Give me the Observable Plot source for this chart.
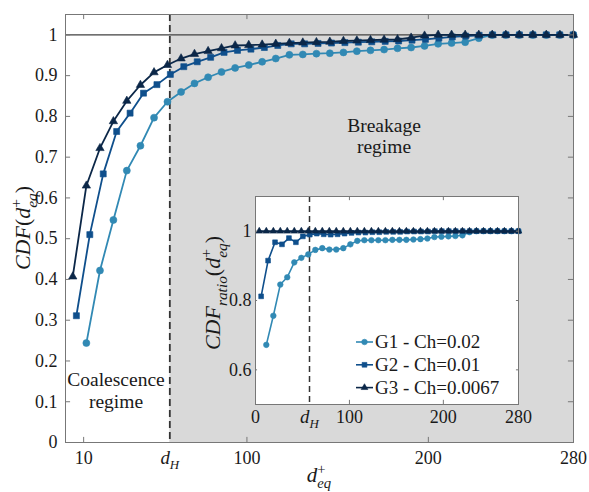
<!DOCTYPE html>
<html><head><meta charset="utf-8">
<script src="https://cdn.jsdelivr.net/npm/d3@7"></script>
<script src="https://cdn.jsdelivr.net/npm/@observablehq/plot@0.6"></script>
<style>
body{margin:0;background:#fff;}
#chart{position:relative;width:589px;height:492px;}
#inset{position:absolute;left:200px;top:190px;}
#chart svg, #chart svg text{font-family:'Liberation Serif',serif;}
</style></head><body><div id="chart"></div>
<script>
const FONT = "'Liberation Serif',serif";
const FS = 18;          // tick labels
const LABEL_FS = 22;    // axis titles
const NOTE_FS = 19.5;   // regime notes
const LEG_FS = 19;      // legend
const dH = 57.5;

// main CDF data
const xG3 = [4,11.5,19,26.4,33.8,41.3,48.8,56.2,63.7,71.1,78.6,86,93.5,101,108.4,115.9,123.4,130.8,138.3,145.7,153.2,160.6,168.1,175.6,183,190.5,197.9,205.4,212.8,220.3,227.8,235.2,242.7,250.1,257.6,265,272.5,280];
const yG3 = [0.407,0.630,0.722,0.788,0.838,0.877,0.908,0.926,0.942,0.953,0.960,0.967,0.974,0.975,0.976,0.978,0.980,0.981,0.982,0.983,0.985,0.986,0.987,0.988,0.989,0.993,0.998,1,1,1,1,1,1,1,1,1,1,1];
const xG2 = [6,13.4,20.8,28.2,35.6,43,50.4,57.8,65.2,72.6,80,87.4,94.8,102.2,109.6,117,124.4,131.8,139.2,146.6,154,161.4,168.8,176.2,183.6,191,198.4,205.8,213.2,220.6,228,235.4,242.8,250.2,257.6,265,272.4,279.8];
const yG2 = [0.311,0.510,0.659,0.763,0.808,0.857,0.878,0.903,0.922,0.934,0.945,0.957,0.962,0.965,0.969,0.974,0.978,0.978,0.979,0.980,0.981,0.982,0.983,0.984,0.985,0.987,0.989,0.992,0.995,0.997,0.999,1,1,1,1,1,1,1];
const xG1 = [11.5,19,26.4,33.8,41.3,48.8,56.2,63.7,71.1,78.6,86,93.5,101,108.4,115.9,123.4,130.8,138.3,145.7,153.2,160.6,168.1,175.6,183,190.5,197.9,205.4,212.8,220.3,227.8,235.2,242.7,250.1,257.6,265,272.5,280];
const yG1 = [0.244,0.422,0.546,0.667,0.728,0.797,0.836,0.860,0.881,0.896,0.909,0.919,0.926,0.934,0.942,0.951,0.952,0.954,0.955,0.957,0.960,0.962,0.964,0.967,0.969,0.973,0.978,0.980,0.982,0.992,1,1,1,1,1,1,1];

// inset CDF ratio data
const rG3 = [1,1,1,1,1,1,1,1,1,1,1,1,1,1,1,1,1,1,1,1,1,1,1,1,1,1,1,1,1,1,1,1,1,1,1,1,1,1];
const rG2 = [0.812,0.915,0.968,0.962,0.980,0.968,0.985,0.990,0.993,0.991,0.990,0.991,0.993,0.995,0.996,0.996,0.997,0.997,0.998,0.998,0.998,0.999,0.999,0.999,0.999,1,1,1,1,1,1,1,1,1,1,1,1,1];
const rG1 = [0.672,0.756,0.846,0.867,0.910,0.923,0.933,0.946,0.951,0.947,0.947,0.951,0.962,0.972,0.974,0.974,0.974,0.974,0.975,0.975,0.975,0.976,0.977,0.979,0.983,0.984,0.985,0.986,0.988,0.997,1,1,1,1,1,1,1];

const seriesNames = ["G1 - Ch=0.02", "G2 - Ch=0.01", "G3 - Ch=0.0067"];
const seriesColors = ["#3189b4", "#0f4f8c", "#0b2748"];
const seriesSymbols = ["circle", "square", "triangle"];

const xTicks = [10, dH, 100, 200, 280];
const yTicks = [0, 0.1, 0.2, 0.3, 0.4, 0.5, 0.6, 0.7, 0.8, 0.9, 1];
const yTickLabels = ["0","0.1","0.2","0.3","0.4","0.5","0.6","0.7","0.8","0.9","1"];
const insetXTicks = [0, dH, 100, 200, 280];
const insetYTicks = [0.6, 0.8, 1];
const insetYTickLabels = ["0.6", "0.8", "1"];

const xDomain = [0, 280], yDomain = [0, 1.05];
const ixDomain = [0, 280], iyDomain = [0.5, 1.1];

const mainSeries = [[xG1, yG1], [xG2, yG2], [xG3, yG3]].map(([xs, ys], i) =>
  xs.map((x, j) => ({x, y: ys[j], s: i})));
const insetSeries = [[xG1, rG1], [xG2, rG2], [xG3, rG3]].map(([xs, ys], i) =>
  xs.map((x, j) => ({x, y: ys[j], s: i})));

const symR = {circle: 3.5, square: 3.4, triangle: 3.1};
const symRi = {circle: 2.8, square: 2.7, triangle: 2.5};

function seriesMarks(series, rs, sw) {
  const m = [];
  series.forEach((d, i) => {
    m.push(Plot.line(d, {x: "x", y: "y", stroke: seriesColors[i], strokeWidth: sw}));
    m.push(Plot.dot(d, {x: "x", y: "y", symbol: seriesSymbols[i], r: rs[seriesSymbols[i]], fill: seriesColors[i], stroke: seriesColors[i], strokeWidth: 0.6}));
  });
  return m;
}

function tickFmt(labels, values) {
  return d => { if (d === dH) return "dH"; const k = values.indexOf(d); return k >= 0 && labels ? labels[k] : String(d); };
}

function inwardTicks(xt, yt, xd, yd, tx, ty, stroke) {
  return [
    Plot.ruleX(xt, {x: d => d, y1: () => yd[0], y2: () => yd[0] + ty, stroke, strokeWidth: 1}),
    Plot.ruleX(xt, {x: d => d, y1: () => yd[1] - ty, y2: () => yd[1], stroke, strokeWidth: 1}),
    Plot.ruleY(yt, {y: d => d, x1: () => xd[0], x2: () => xd[0] + tx, stroke, strokeWidth: 1}),
    Plot.ruleY(yt, {y: d => d, x1: () => xd[1] - tx, x2: () => xd[1], stroke, strokeWidth: 1})
  ];
}

const main = Plot.plot({
  width: 589, height: 492,
  marginLeft: 65, marginRight: 16, marginTop: 14, marginBottom: 50,
  style: {fontFamily: FONT, fontSize: FS + "px", color: "#1a1a1a", background: "white", overflow: "visible"},
  x: {domain: xDomain, ticks: xTicks, tickFormat: tickFmt(null, xTicks), tickSize: 0, tickPadding: 9, label: null},
  y: {domain: yDomain, ticks: yTicks, tickFormat: tickFmt(yTickLabels, yTicks), tickSize: 0, tickPadding: 8, label: null},
  marks: [
    Plot.rect([dH], {x1: d => d, x2: () => xDomain[1], y1: () => yDomain[0], y2: () => yDomain[1], fill: "#d9d9d9"}),
    Plot.ruleY([1], {stroke: "#404040", strokeWidth: 1.1}),
    Plot.ruleX([dH], {stroke: "#333", strokeWidth: 1.8, strokeDasharray: "7,4"}),
    ...seriesMarks(mainSeries, symR, 1.8),
    Plot.frame({stroke: "#777", strokeWidth: 1}),
    ...inwardTicks(xTicks.filter(v => v !== dH), yTicks, xDomain, yDomain, 2.8, 0.0125, "#777")
  ]
});

const inset = Plot.plot({
  width: 360, height: 250,
  marginLeft: 55, marginRight: 42, marginTop: 6, marginBottom: 36,
  style: {fontFamily: FONT, fontSize: FS + "px", color: "#1a1a1a", background: "transparent", overflow: "visible"},
  x: {domain: ixDomain, ticks: insetXTicks, tickFormat: tickFmt(null, insetXTicks), tickSize: 0, tickPadding: 6, label: null},
  y: {domain: iyDomain, ticks: insetYTicks, tickFormat: tickFmt(insetYTickLabels, insetYTicks), tickSize: 0, tickPadding: 4, label: null},
  marks: [
    Plot.frame({fill: "white", stroke: "none"}),
    Plot.ruleX([dH], {stroke: "#333", strokeWidth: 1.5, strokeDasharray: "6,4"}),
    ...seriesMarks(insetSeries, symRi, 1.6),
    Plot.frame({stroke: "#777", strokeWidth: 1}),
    ...inwardTicks(insetXTicks.filter(v => v !== dH), insetYTicks, ixDomain, iyDomain, 2.2, 0.012, "#777")
  ]
});

const chart = document.getElementById("chart");
chart.appendChild(main);
inset.id = "inset";
chart.appendChild(inset);

function fixDH(svg) {
  d3.select(svg).selectAll("text").each(function() {
    if (this.textContent === "dH") {
      const t = d3.select(this); t.text("");
      t.append("tspan").attr("font-style", "italic").style("font-size", (FS * 1.05) + "px").text("d");
      t.append("tspan").attr("font-style", "italic").style("font-size", (FS * 0.72) + "px").attr("dy", 5).text("H");
    }
  });
}
fixDH(main); fixDH(inset);

function mathText(t, parts, fs) {
  let shift = 0, lastLen = 0, pending = 0;
  for (const p of parts) {
    const ts = t.append("tspan").text(p.t);
    if (p.i) ts.attr("font-style", "italic");
    let target = 0, size = fs;
    if (p.sub) { target = 0.3 * fs; size = 0.7 * fs; }
    if (p.sup) { target = -0.4 * fs; size = 0.7 * fs; }
    ts.style("font-size", size + "px").attr("dy", target - shift);
    if (p.back) ts.attr("dx", -lastLen);
    else if (pending > 0) ts.attr("dx", pending);
    shift = target;
    const len = ts.node().getComputedTextLength();
    pending = p.back ? Math.max(0, lastLen - len) : 0;
    lastLen = len;
  }
}

const deq = [{t: "d", i: true}, {t: "eq", i: true, sub: true}, {t: "+", sup: true, back: true}];

const ms = d3.select(main);
const lab = ms.append("g").attr("fill", "#1a1a1a");
mathText(lab.append("text").attr("text-anchor", "middle").attr("transform", "translate(30,228) rotate(-90)"),
  [{t: "CDF", i: true}, {t: "("}, ...deq, {t: ")"}], LABEL_FS);
mathText(lab.append("text").attr("text-anchor", "middle").attr("x", 319).attr("y", 482), deq, 21);

const notes = [["Coalescence", 116, 386], ["regime", 116, 408], ["Breakage", 384, 132], ["regime", 384, 153]];
notes.forEach(([s, x, y]) => lab.append("text").attr("x", x).attr("y", y).attr("text-anchor", "middle").style("font-size", NOTE_FS + "px").text(s));

const is = d3.select(inset);
const il = is.append("g").attr("fill", "#1a1a1a");
mathText(il.append("text").attr("text-anchor", "middle").attr("transform", "translate(20,103) rotate(-90)"),
  [{t: "CDF", i: true}, {t: "ratio", i: true, sub: true}, {t: "("}, ...deq, {t: ")"}], LABEL_FS);

// legend
const leg = is.append("g");
seriesNames.forEach((name, i) => {
  const y = 152 + i * 22.8;
  leg.append("line").attr("x1", 156).attr("x2", 173).attr("y1", y).attr("y2", y)
    .attr("stroke", seriesColors[i]).attr("stroke-width", 1.6);
  const sym = {circle: d3.symbolCircle, square: d3.symbolSquare, triangle: d3.symbolTriangle}[seriesSymbols[i]];
  const r = symRi[seriesSymbols[i]];
  leg.append("path").attr("d", d3.symbol(sym, Math.PI * r * r)()).attr("transform", `translate(164.5,${y})`)
    .attr("fill", seriesColors[i]).attr("stroke", seriesColors[i]).attr("stroke-width", 0.6);
  leg.append("text").attr("x", 175).attr("y", y + 6).attr("text-anchor", "start").style("font-size", LEG_FS + "px")
    .attr("fill", "#1a1a1a").text(name);
});
</script></body></html>
